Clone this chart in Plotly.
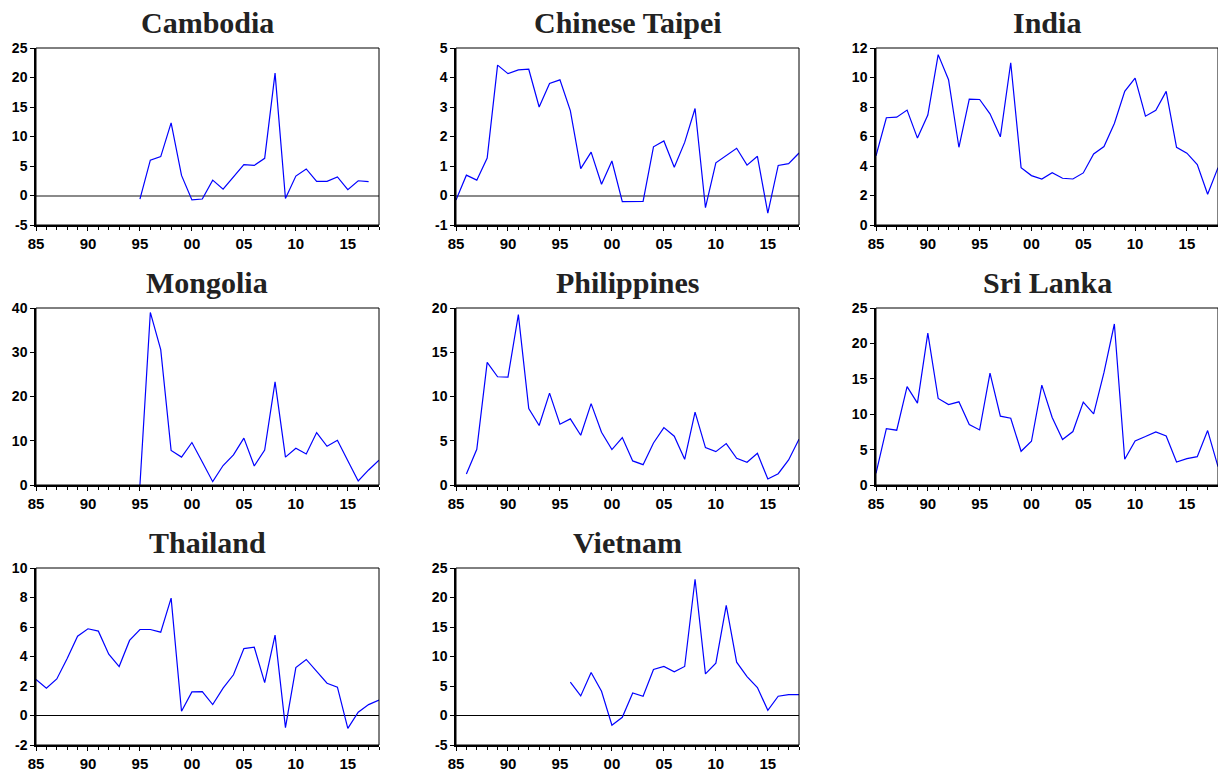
import plotly.graph_objects as go

W, H = 1218, 771

countries = ["Cambodia", "Chinese Taipei", "India", "Mongolia", "Philippines",
             "Sri Lanka", "Thailand", "Vietnam"]
start_years = [1995, 1985, 1985, 1995, 1986, 1985, 1985, 1996]

cambodia = [-0.6, 6.0, 6.6, 12.3, 3.4, -0.75, -0.6, 2.6, 1.06, 3.2, 5.25, 5.1, 6.3,
            20.75, -0.5, 3.3, 4.5, 2.4, 2.4, 3.15, 1.0, 2.5, 2.35]
chinese_taipei = [-0.15, 0.69, 0.52, 1.27, 4.42, 4.13, 4.26, 4.28, 3.0, 3.8, 3.92, 2.88,
                  0.91, 1.47, 0.38, 1.17, -0.21, -0.21, -0.2, 1.65, 1.85, 0.96, 1.8, 2.95,
                  -0.41, 1.11, 1.37, 1.6, 1.03, 1.33, -0.6, 1.02, 1.08, 1.44]
india = [4.69, 7.27, 7.31, 7.79, 5.89, 7.45, 11.55, 9.85, 5.27, 8.54, 8.51, 7.54, 5.98,
         11.0, 3.89, 3.35, 3.12, 3.55, 3.17, 3.12, 3.53, 4.82, 5.32, 6.88, 9.06, 9.96,
         7.38, 7.77, 9.06, 5.27, 4.87, 4.1, 2.08, 3.89]
mongolia = [0.0, 39.0, 30.6, 7.8, 6.3, 9.6, 5.2, 0.75, 4.4, 6.8, 10.6, 4.3, 7.9, 23.3,
            6.3, 8.3, 7.0, 11.85, 8.75, 10.1, 5.5, 0.9, 3.4, 5.6]
philippines = [1.25, 4.04, 13.85, 12.23, 12.19, 19.25, 8.64, 6.72, 10.38, 6.87, 7.47,
               5.62, 9.2, 5.96, 4.0, 5.36, 2.72, 2.3, 4.75, 6.49, 5.51, 2.9, 8.23, 4.23,
               3.77, 4.68, 3.02, 2.57, 3.58, 0.68, 1.28, 2.83, 5.17]
sri_lanka = [1.65, 7.97, 7.74, 13.9, 11.56, 21.46, 12.22, 11.37, 11.75, 8.54, 7.78, 15.8,
             9.72, 9.43, 4.76, 6.18, 14.1, 9.53, 6.42, 7.55, 11.7, 10.05, 15.9, 22.74,
             3.63, 6.23, 6.84, 7.5, 6.93, 3.25, 3.73, 4.0, 7.69, 2.59]
thailand = [2.44, 1.85, 2.48, 3.86, 5.38, 5.88, 5.72, 4.16, 3.32, 5.09, 5.83, 5.83, 5.65,
            7.96, 0.29, 1.6, 1.62, 0.74, 1.85, 2.76, 4.54, 4.63, 2.23, 5.45, -0.82, 3.25,
            3.8, 3.0, 2.19, 1.92, -0.87, 0.22, 0.74, 1.04]
vietnam = [5.64, 3.32, 7.28, 4.11, -1.66, -0.3, 3.83, 3.27, 7.8, 8.31, 7.4, 8.31, 23.1,
           7.06, 8.87, 18.66, 9.04, 6.6, 4.74, 0.88, 3.27, 3.55, 3.55]

series = [cambodia, chinese_taipei, india, mongolia, philippines, sri_lanka, thailand, vietnam]

x_tickvals = [1985, 1990, 1995, 2000, 2005, 2010, 2015]
x_ticktext = ["85", "90", "95", "00", "05", "10", "15"]

y_ticks = [
    [-5, 0, 5, 10, 15, 20, 25],
    [-1, 0, 1, 2, 3, 4, 5],
    [0, 2, 4, 6, 8, 10, 12],
    [0, 10, 20, 30, 40],
    [0, 5, 10, 15, 20],
    [0, 5, 10, 15, 20, 25],
    [-2, 0, 2, 4, 6, 8, 10],
    [-5, 0, 5, 10, 15, 20, 25],
]
zero_colors = ["#8a8a8a", "#8a8a8a", None, None, None, None, "#000000", "#000000"]
zero_widths = [1.6, 1.6, 1, 1, 1, 1, 1, 1]

# pixel positions of the panels
col_px = [(36, 379), (456, 799), (876, 1218)]
row_px = [(48, 225), (308, 485), (568, 745)]

fig = go.Figure()
sans = "Liberation Sans, Arial"

for i, (name, vals, sy) in enumerate(zip(countries, series, start_years)):
    r, c = divmod(i, 3)
    ax = "" if i == 0 else str(i + 1)
    x0p, x1p = col_px[c]
    t, b = row_px[r]
    years = list(range(sy, sy + len(vals)))
    fig.add_trace(go.Scatter(x=years, y=vals, mode="lines",
                             line=dict(color="#0000FF", width=1.2),
                             xaxis="x" + ax, yaxis="y" + ax, showlegend=False,
                             hoverinfo="skip"))
    yt = y_ticks[i]
    zc = zero_colors[i]
    fig.layout["xaxis" + ax] = dict(
        domain=[x0p / W, x1p / W], anchor="y" + ax, range=[1985, 2018], automargin=False,
        tickvals=x_tickvals, ticktext=x_ticktext, ticks="outside", ticklen=4,
        tickwidth=1, tickcolor="black", showline=True, linecolor="black", linewidth=1.5,
        showgrid=False, zeroline=False,
        tickfont=dict(family=sans, size=15, color="black", weight="bold"),
        minor=dict(dtick=1, tick0=1985, ticks="outside", ticklen=3, tickcolor="black", showgrid=False),
    )
    fig.layout["yaxis" + ax] = dict(
        domain=[1 - b / H, 1 - t / H], anchor="x" + ax, range=[yt[0], yt[-1]], automargin=False,
        tickvals=yt, ticktext=[str(v) for v in yt], ticks="outside", ticklen=4,
        tickwidth=1, tickcolor="black", showline=True, linecolor="black", linewidth=1.5,
        showgrid=False, zeroline=zc is not None, zerolinecolor=zc or "black",
        zerolinewidth=zero_widths[i],
        tickfont=dict(family=sans, size=14, color="black", weight="bold"),
    )
    fig.add_shape(type="rect", xref=f"x{ax} domain", yref=f"y{ax} domain",
                  x0=0, x1=1, y0=0, y1=1, line=dict(color="black", width=1), layer="above")
    fig.add_annotation(text="<b>" + name + "</b>", xref="paper", yref="paper",
                       x=(x0p + x1p) / 2 / W, y=1 - (t - 26) / H, xanchor="center",
                       yanchor="middle", showarrow=False,
                       font=dict(family="Liberation Serif, Times New Roman", size=30, color="#222222"))

fig.update_layout(width=W, height=H, margin=dict(l=0, r=0, t=0, b=0),
                  paper_bgcolor="white", plot_bgcolor="white")
fig.write_html("out.html", config={"displayModeBar": False},
               post_script="document.body.style.margin='0';document.body.style.overflow='hidden';")
